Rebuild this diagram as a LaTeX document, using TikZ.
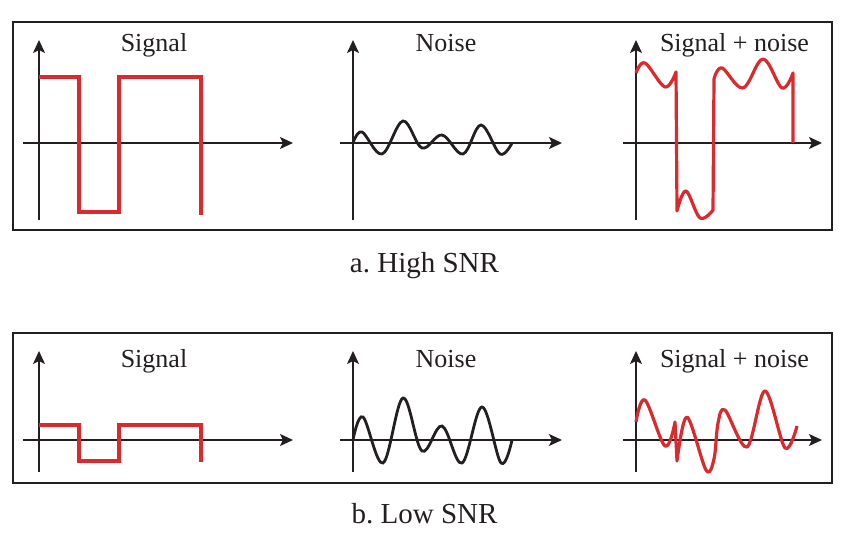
\documentclass[tikz,border=0pt]{standalone}
\usepackage{fontspec}
\setmainfont{Liberation Serif}
\usetikzlibrary{arrows.meta}
\definecolor{sigred}{RGB}{218,42,46}
\definecolor{ink}{RGB}{35,31,32}
\frenchspacing
\begin{document}
\begin{tikzpicture}[x=1pt,y=1pt,
  frame/.style={draw=ink,line width=1.8pt},
  axis/.style={draw=ink,line width=1.6pt,-{Stealth[length=13pt,width=12pt,inset=3pt]}},
  sig/.style={draw=sigred,line width=3.2pt,line join=miter},
  sigwave/.style={draw=sigred,line width=3.2pt,line join=round},
  noisy/.style={draw=ink,line width=2.8pt},
  ttl/.style={anchor=base,font=\fontsize{26}{28}\selectfont,text=ink,inner sep=0pt},
  captxt/.style={anchor=base,font=\fontsize{29}{31}\selectfont,text=ink,inner sep=0pt}]
\useasboundingbox (0,0) rectangle (851,541);
% frames
\draw[frame] (13,311) rectangle (832,519);
\draw[frame] (13,58) rectangle (832,208);
% captions
\node[captxt] (capa) at (424.5,268) {a.\ High SNR};
\node[captxt] (capb) at (424.5,18) {b.\ Low SNR};
% titles
\node[ttl] (t1) at (154,489) {Signal};
\node[ttl] (t2) at (446,489) {Noise};
\node[ttl] (t3) at (734.5,489) {Signal + noise};
\node[ttl] (t4) at (154,173) {Signal};
\node[ttl] (t5) at (446,173) {Noise};
\node[ttl] (t6) at (734.5,173) {Signal + noise};
% ---------- top row axes
\coordinate (a1y0) at (39,321); \coordinate (a1y1) at (39,501);
\coordinate (a1x0) at (23,398); \coordinate (a1x1) at (293,398);
\coordinate (a2y0) at (353,321); \coordinate (a2y1) at (353,501);
\coordinate (a2x0) at (340,398); \coordinate (a2x1) at (562,398);
\coordinate (a3y0) at (636,321); \coordinate (a3y1) at (636,501);
\coordinate (a3x0) at (623,398); \coordinate (a3x1) at (822,398);
\foreach \i in {1,2,3}{\draw[axis] (a\i y0) -- (a\i y1); \draw[axis] (a\i x0) -- (a\i x1);}
% top signal
\draw[sig] (39,464) -- (79,464) -- (79,329) -- (119,329) -- (119,464) -- (201,464) -- (201,326);
% top noise
\draw[noisy] plot[smooth,tension=.6] coordinates {(353,398)(362,409)(382,387)(403,420)(422,393)(442,406)(463,387)(481,416)(500,387)(512,398)};
% top signal + noise
\draw[sigwave] plot[smooth,tension=.6] coordinates {(636,468)(645,478)(665,454)(676,469)}
  -- plot[smooth,tension=.6] coordinates {(677,330)(686,350)(700,323)(713,331)}
  -- plot[smooth,tension=.6] coordinates {(714,462)(722,473)(743,453)(763,482)(782,453)(793,468)}
  -- (793,398);
% ---------- bottom row axes
\coordinate (b1y0) at (39,69); \coordinate (b1y1) at (39,190);
\coordinate (b1x0) at (23,101); \coordinate (b1x1) at (293,101);
\coordinate (b2y0) at (353,69); \coordinate (b2y1) at (353,190);
\coordinate (b2x0) at (340,101); \coordinate (b2x1) at (562,101);
\coordinate (b3y0) at (636,69); \coordinate (b3y1) at (636,190);
\coordinate (b3x0) at (623,101); \coordinate (b3x1) at (822,101);
\foreach \i in {1,2,3}{\draw[axis] (b\i y0) -- (b\i y1); \draw[axis] (b\i x0) -- (b\i x1);}
% bottom signal
\draw[sig] (39,116) -- (79,116) -- (79,80) -- (119,80) -- (119,116) -- (201,116) -- (201,79);
% bottom noise
\draw[noisy] plot[smooth,tension=.6] coordinates {(353,101)(363,124)(383,78)(403,143)(422,90)(442,115)(462,78)(482,134)(501,78)(512,101)};
% bottom signal + noise
\draw[sigwave] plot[smooth,tension=.6] coordinates {(636,119)(645,141)(665,95)(675,119)}
  -- plot[smooth,tension=.55] coordinates {(677,80)(687,124)(706,71)(714,82)(718,118)(725,131)(747,94)(765,150)(785,93)(797,115)};
\end{tikzpicture}
\end{document}
